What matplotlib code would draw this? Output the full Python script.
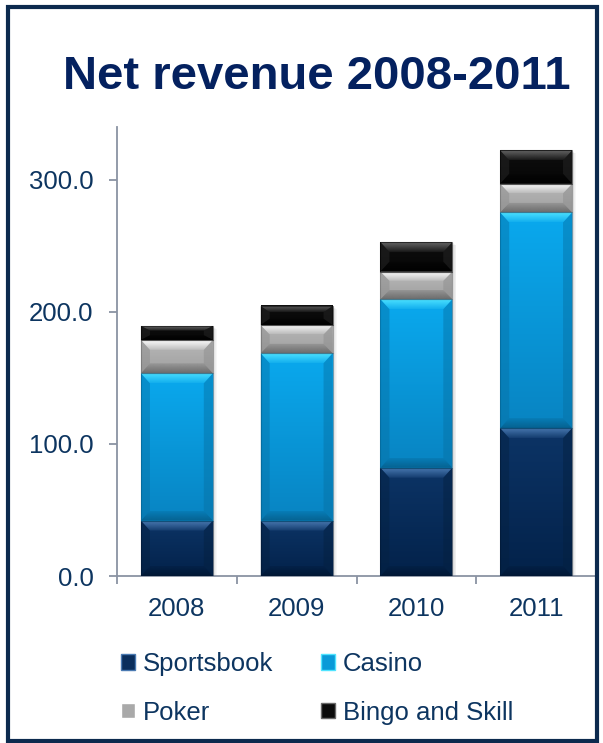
import numpy as np
import matplotlib
matplotlib.use("Agg")
import matplotlib.pyplot as plt
from matplotlib.patches import Polygon, Rectangle
from matplotlib.colors import LinearSegmentedColormap, to_rgb

plt.rcParams['font.family'] = ['Liberation Sans', 'DejaVu Sans']

years = ["2008", "2009", "2010", "2011"]
sportsbook = [42.0, 42.0, 82.0, 112.0]
casino = [111.5, 126.7, 127.6, 163.3]
poker = [25.3, 21.3, 20.9, 21.7]
bingo_skill = [10.6, 14.5, 22.3, 25.3]
series_names = ["Sportsbook", "Casino", "Poker", "Bingo and Skill"]
y_ticks = [0, 100, 200, 300]

text_col = "#0d3560"
title_col = "#04215f"
axis_col = "#8a93a3"

# base, gradient top, gradient bottom, top bevel, bottom bevel, side bevel
styles = {
    "Sportsbook": ("#0a2e5c", "#0c3466", "#03224a", "#4a7ab2", "#011630", "#04203f"),
    "Casino": ("#0a9ad8", "#0aa9ee", "#0884c2", "#50e4ff", "#055a85", "#0670a3"),
    "Poker": ("#a9a9a9", "#b8b8b8", "#a0a0a0", "#ffffff", "#626262", "#8a8a8a"),
    "Bingo and Skill": ("#0b0b0b", "#0e0e0e", "#060606", "#6a6a6a", "#000000", "#2a2a2a"),
}

fig = plt.figure(figsize=(6.03, 7.43), dpi=100)
W, H = 603, 743
ax = fig.add_axes([117 / W, (H - 576) / H, (596 - 117) / W, (576 - 127) / H])
ax.set_xlim(-0.5, 3.5)
ax.set_ylim(0, 340)

x = np.arange(len(years))
bw = 0.6
px_x = 4.0 / (596 - 117)
px_y = 340.0 / (576 - 127)


def fade(color, a0, a1, n=32):
    # vertical RGBA ramp of one colour, alpha a0 at bottom row to a1 at top row
    rgb = np.array(to_rgb(color))
    arr = np.zeros((n, 1, 4))
    arr[:, 0, :3] = rgb
    arr[:, 0, 3] = np.linspace(a0, a1, n)
    return arr


def bevel_segment(p, st):
    x0, y0 = p.get_x(), p.get_y()
    w, h = p.get_width(), p.get_height()
    x1, y1 = x0 + w, y0 + h
    cmap = LinearSegmentedColormap.from_list("g", [st[2], st[1]])
    grad = np.linspace(0, 1, 64).reshape(-1, 1)
    ax.imshow(grad, cmap=cmap, extent=(x0, x1, y0, y1), origin="lower",
              aspect="auto", zorder=3, interpolation="bilinear")
    bx = 9 * px_x
    by = min(10 * px_y, h / 3)
    # side bevels
    for xa, xb in ((x0, x0 + bx), (x1, x1 - bx)):
        ax.add_patch(Polygon([(xa, y0), (xa, y1), (xb, y1 - by), (xb, y0 + by)],
                             closed=True, facecolor=st[5], edgecolor="none", alpha=0.45, zorder=4))
    # top bevel, bright at the edge fading inward
    top = Polygon([(x0, y1), (x1, y1), (x1 - bx, y1 - by), (x0 + bx, y1 - by)],
                  closed=True, facecolor="none", edgecolor="none")
    ax.add_patch(top)
    im = ax.imshow(fade(st[3], 0.15, 0.95), extent=(x0, x1, y1 - by, y1), origin="lower",
                   aspect="auto", zorder=5, interpolation="bilinear")
    im.set_clip_path(top)
    # bottom bevel, darker
    bot = Polygon([(x0, y0), (x1, y0), (x1 - bx, y0 + by), (x0 + bx, y0 + by)],
                  closed=True, facecolor="none", edgecolor="none")
    ax.add_patch(bot)
    im = ax.imshow(fade(st[4], 0.8, 0.2), extent=(x0, x1, y0, y0 + by), origin="lower",
                   aspect="auto", zorder=5, interpolation="bilinear")
    im.set_clip_path(bot)
    ax.add_patch(Rectangle((x0, y0), w, h, facecolor="none", edgecolor=st[4],
                           linewidth=0.8, alpha=0.5, zorder=6))


bottom = np.zeros(len(years))
for name, vals in zip(series_names, [sportsbook, casino, poker, bingo_skill]):
    st = styles[name]
    bars = ax.bar(x, vals, bw, bottom=bottom, color=st[0], zorder=2, label=name)
    for p in bars:
        bevel_segment(p, st)
    bottom += np.array(vals)

# soft drop shadow behind each stack
for xi, tot in zip(x, bottom):
    for k in range(1, 6):
        ax.add_patch(Rectangle((xi - bw / 2 + k * px_x * 0.8, -k * px_y * 0.6), bw, tot,
                               facecolor="#000000", alpha=0.03, edgecolor="none",
                               zorder=1, clip_on=True))

ax.set_xlim(-0.5, 3.5)
ax.set_ylim(0, 340)

for s in ["top", "right"]:
    ax.spines[s].set_visible(False)
for s in ["left", "bottom"]:
    ax.spines[s].set_color(axis_col)
    ax.spines[s].set_linewidth(1.3)

ax.set_yticks(y_ticks)
ax.set_yticklabels([f"{v:.1f}" for v in y_ticks])
ax.set_xticks(x)
ax.set_xticklabels(years)
ax.set_xticks(np.arange(-0.5, 4.0, 1.0), minor=True)
ax.tick_params(axis="y", colors=axis_col, labelcolor=text_col, labelsize=18.5,
               length=6, width=1.3, pad=11)
ax.tick_params(axis="x", which="major", length=0, labelcolor=text_col,
               labelsize=18.5, pad=15)
ax.tick_params(axis="x", which="minor", colors=axis_col, length=5.5, width=1.3)

fig.text(317 / W, 1 - 77 / H, "Net revenue 2008-2011", ha="center", va="center",
         fontsize=34, fontweight="bold", color=title_col)

# legend, filled row by row
handles = {n: Rectangle((0, 0), 1, 1, facecolor=styles[n][0],
                        edgecolor=styles[n][3], linewidth=1.0) for n in series_names}
order = ["Sportsbook", "Poker", "Casino", "Bingo and Skill"]
fig.legend([handles[n] for n in order], order, loc="upper left",
           bbox_to_anchor=(98 / W, 1 - 629 / H),
           ncol=2, frameon=False, fontsize=18.5, labelcolor=text_col,
           handlelength=0.55, handleheight=0.55, handletextpad=0.3,
           columnspacing=1.85, labelspacing=0.95)

# outer frame
fig.patches.append(Rectangle((8 / W, 2 / H), (597 - 8) / W, (736 - 2) / H,
                             transform=fig.transFigure, fill=False,
                             edgecolor="#0c2a4e", linewidth=3.0))

fig.savefig("out.png", dpi=100, facecolor="white")
